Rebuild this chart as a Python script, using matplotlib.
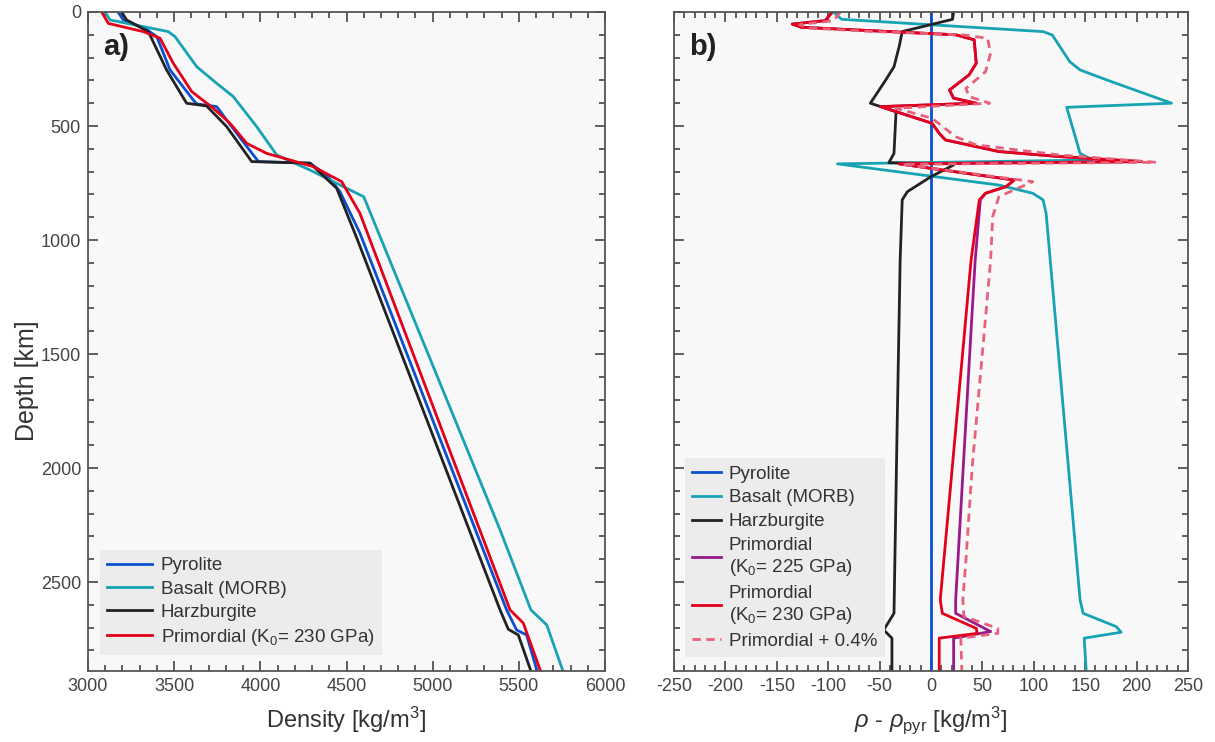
import numpy as np
import matplotlib
matplotlib.use("Agg")
from matplotlib import pyplot as plt
from matplotlib.ticker import MultipleLocator

plt.rcParams['font.family'] = ['Liberation Sans', 'DejaVu Sans']
plt.rcParams['mathtext.fontset'] = 'custom'
plt.rcParams['mathtext.rm'] = 'Liberation Sans'
plt.rcParams['mathtext.it'] = 'Liberation Sans:italic'
plt.rcParams['axes.unicode_minus'] = False
plt.rcParams['text.color'] = '#333333'
plt.rcParams['axes.labelcolor'] = '#333333'
plt.rcParams['xtick.color'] = '#444444'
plt.rcParams['ytick.color'] = '#444444'

# ---- panel a: density profiles (depth km, density kg/m3) ----
pyr_depth = [0, 35, 72, 108, 254, 386, 403, 415, 474, 561, 656, 663, 715, 788, 970, 2622, 2710, 2732, 2890]
pyr_rho = [3174, 3205, 3331, 3399, 3476, 3611, 3631, 3747, 3805, 3892, 3989, 4288, 4385, 4462, 4578, 5429, 5487, 5545, 5606]

bas_depth = [0, 35, 86, 108, 240, 313, 371, 503, 627, 693, 766, 810, 2271, 2622, 2688, 2890]
bas_rho = [3099, 3128, 3466, 3505, 3631, 3747, 3843, 3979, 4095, 4288, 4482, 4600, 5391, 5570, 5662, 5756]

harz_depth = [0, 35, 86, 254, 400, 412, 503, 656, 663, 773, 992, 2622, 2707, 2732, 2890]
harz_rho = [3195, 3224, 3350, 3456, 3572, 3688, 3805, 3950, 4288, 4443, 4560, 5391, 5439, 5497, 5570]

prim_depth = [0, 50, 86, 115, 225, 349, 422, 488, 576, 620, 678, 744, 883, 2622, 2680, 2890]
prim_rho = [3079, 3118, 3321, 3418, 3495, 3602, 3727, 3824, 3921, 4037, 4307, 4472, 4578, 5449, 5526, 5626]

# ---- panel b: density difference to pyrolite ----
d_pyr = [0, 2890]
v_pyr = [0, 0]

d_bas = [0, 32, 86, 101, 218, 254, 298, 400, 418, 620, 649, 666, 759, 795, 824, 883, 2578, 2637, 2695, 2720, 2746, 2890]
v_bas = [-95, -87, 109, 118, 135, 145, 171, 234, 132, 145, 157, -91, 66, 99, 109, 112, 145, 148, 180, 185, 149, 151]

d_harz = [0, 32, 86, 152, 240, 298, 400, 437, 620, 661, 666, 671, 722, 788, 824, 1087, 1833, 2637, 2710, 2746, 2890]
v_harz = [22, 21, -28, -31, -36, -44, -59, -34, -36, -41, 21, 22, 0, -23, -28, -30, -33, -36, -46, -38, -38]

d_p225 = [0, 38, 53, 67, 100, 122, 225, 276, 342, 378, 400, 415, 488, 532, 561, 612, 634, 656, 666, 737, 766, 795, 824, 1087, 1394, 2578, 2637, 2717, 2746, 2890]
v_p225 = [-96, -103, -135, -126, 24, 42, 44, 37, 18, 22, 44, -49, 1, 8, 14, 66, 125, 205, -31, 81, 73, 53, 48, 43, 39, 24, 24, 58, 22, 22]

d_p230 = [0, 38, 53, 67, 100, 122, 225, 276, 342, 378, 400, 415, 488, 532, 561, 612, 634, 656, 666, 737, 766, 795, 824, 1087, 2578, 2637, 2703, 2725, 2746, 2890]
v_p230 = [-96, -103, -135, -126, 24, 42, 44, 37, 18, 22, 44, -49, 1, 8, 14, 66, 125, 205, -31, 81, 73, 53, 47, 39, 9, 11, 44, 45, 8, 8]

d_p04 = [0, 38, 55, 70, 85, 100, 115, 181, 262, 335, 371, 400, 422, 466, 547, 583, 627, 659, 668, 744, 810, 898, 1087, 1394, 2000, 2403, 2578, 2651, 2703, 2725, 2746, 2890]
v_p04 = [-88, -95, -128, -120, -60, 30, 55, 58, 53, 34, 37, 57, -34, 1, 24, 44, 125, 219, -28, 99, 66, 60, 58, 52, 40, 34, 31, 32, 65, 65, 29, 30]

c_pyr = '#0a4fd0'
c_bas = '#17a3b4'
c_harz = '#222222'
c_p225 = '#9a1a8c'
c_p230 = '#e2001a'
c_p04 = '#e8607a'
lw = 2.0

fig = plt.figure(figsize=(12.15, 7.42), dpi=100)
ax1 = fig.add_axes([88 / 1215, 71 / 742, 517 / 1215, 659 / 742])
ax2 = fig.add_axes([674 / 1215, 71 / 742, 514 / 1215, 659 / 742])

for ax in (ax1, ax2):
    ax.set_facecolor('#f8f8f8')
    for s in ax.spines.values():
        s.set_color('#555555')
        s.set_linewidth(1.3)
    ax.tick_params(which='both', direction='in', top=True, right=True, labelsize=13, width=1.2)
    ax.tick_params(which='major', length=7, pad=5)
    ax.tick_params(which='minor', length=4)
    ax.set_ylim(2890, 0)
    ax.yaxis.set_major_locator(MultipleLocator(500))
    ax.yaxis.set_minor_locator(MultipleLocator(100))

ax1.plot(pyr_rho, pyr_depth, color=c_pyr, lw=lw, label='Pyrolite')
ax1.plot(bas_rho, bas_depth, color=c_bas, lw=lw, label='Basalt (MORB)')
ax1.plot(harz_rho, harz_depth, color=c_harz, lw=lw, label='Harzburgite')
ax1.plot(prim_rho, prim_depth, color=c_p230, lw=lw, label='Primordial (K$_0$= 230 GPa)')
ax1.set_xlim(3000, 6000)
ax1.xaxis.set_major_locator(MultipleLocator(500))
ax1.xaxis.set_minor_locator(MultipleLocator(100))
ax1.set_xlabel('Density [kg/m$^3$]', fontsize=17, labelpad=7)
ax1.set_ylabel('Depth [km]', fontsize=18)
ax1.yaxis.set_label_coords(-0.095, 0.44)
ax1.text(0.03, 0.935, 'a)', transform=ax1.transAxes, fontsize=21, fontweight='bold', color='#222222')
leg1 = ax1.legend(loc='lower left', bbox_to_anchor=(0.023, 0.024), borderaxespad=0, fontsize=13.5,
                  handlelength=2.4, handletextpad=0.45, labelspacing=0.32, borderpad=0.4,
                  fancybox=False, framealpha=1)
leg1.get_frame().set_facecolor('#ececec')
leg1.get_frame().set_edgecolor('none')

ax2.plot(v_pyr, d_pyr, color=c_pyr, lw=lw, label='Pyrolite')
ax2.plot(v_bas, d_bas, color=c_bas, lw=lw, label='Basalt (MORB)')
ax2.plot(v_harz, d_harz, color=c_harz, lw=lw, label='Harzburgite')
ax2.plot(v_p225, d_p225, color=c_p225, lw=lw, label='Primordial\n(K$_0$= 225 GPa)')
ax2.plot(v_p230, d_p230, color=c_p230, lw=lw, label='Primordial\n(K$_0$= 230 GPa)')
ax2.plot(v_p04, d_p04, color=c_p04, lw=lw, ls=(0, (3, 2)), label='Primordial + 0.4%')
ax2.set_xlim(-250, 250)
ax2.xaxis.set_major_locator(MultipleLocator(50))
ax2.xaxis.set_minor_locator(MultipleLocator(10))
ax2.tick_params(labelleft=False)
ax2.set_xlabel(r'$\rho$ - $\rho_{\rm pyr}$ [kg/m$^3$]', fontsize=17, labelpad=7)
ax2.text(0.03, 0.935, 'b)', transform=ax2.transAxes, fontsize=21, fontweight='bold', color='#222222')
leg2 = ax2.legend(loc='lower left', bbox_to_anchor=(0.021, 0.021), borderaxespad=0, fontsize=13.5,
                  handlelength=1.55, handletextpad=0.4, labelspacing=0.36, borderpad=0.4,
                  fancybox=False, framealpha=1)
leg2.get_frame().set_facecolor('#ececec')
leg2.get_frame().set_edgecolor('none')

fig.savefig('out.png', dpi=100, facecolor='white')
